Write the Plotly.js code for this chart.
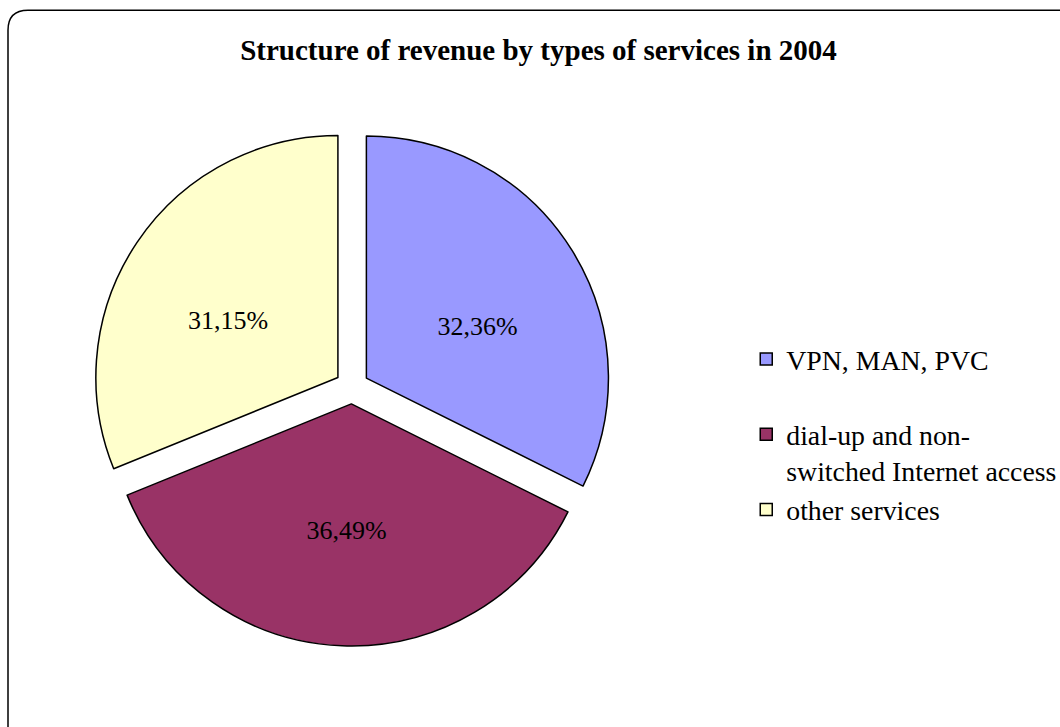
<!DOCTYPE html>
<html>
<head>
<meta charset="utf-8">
<script src="https://cdn.plot.ly/plotly-3.0.1.min.js"></script>
<style>html,body{margin:0;padding:0;background:#fff;}#chart{width:1060px;height:727px;}</style>
</head>
<body>
<div id="chart"></div>
<script>
const categories = ["VPN, MAN, PVC", "dial-up and non-<br>switched Internet access", "other services"];
const shares = [32.36, 36.49, 31.15];
const colors = ["#9999FF", "#993366", "#FFFFCC"];
const chartTitle = "Structure of revenue by types of services in 2004";

const legendLabels = categories.slice();
legendLabels[0] = categories[0] + "<br> ";

const trace = {
  type: "pie",
  labels: legendLabels,
  values: shares,
  sort: false,
  direction: "clockwise",
  rotation: 0,
  pull: 0.07,
  marker: {colors: colors, line: {color: "#000000", width: 1.5}},
  texttemplate: [" <br>%{value:.2f}%", "%{value:.2f}%", " <br>%{value:.2f}%"],
  textposition: "inside",
  insidetextorientation: "horizontal",
  textfont: {family: "Liberation Serif", size: 26, color: "#000000"},
  hoverinfo: "none",
  domain: {x: [0.0877, 0.5764], y: [0.1114, 0.824]}
};

const layout = {
  width: 1060, height: 727,
  margin: {l: 0, r: 0, t: 0, b: 0, autoexpand: false},
  paper_bgcolor: "#ffffff",
  separators: ",.",
  font: {family: "Liberation Serif", color: "#000000"},
  title: {text: "<b>" + chartTitle + "</b>", x: 0.508, xanchor: "center", y: 0.932, yanchor: "middle",
          font: {family: "Liberation Serif", size: 29, color: "#000000"}},
  showlegend: true,
  legend: {x: 0.704, xanchor: "left", y: 0.540, yanchor: "top", valign: "top",
           font: {family: "Liberation Serif", size: 27.8, color: "#000000"},
           bgcolor: "rgba(0,0,0,0)", tracegroupgap: 0},
  shapes: [{
    type: "path", xref: "paper", yref: "paper", layer: "below",
    path: "M 0.00755,-0.01 L 0.00755,0.9585 Q 0.00755,0.986 0.0264,0.986 L 1.05,0.986",
    line: {color: "#000000", width: 1.5}, fillcolor: "rgba(0,0,0,0)"
  }]
};

Plotly.newPlot("chart", [trace], layout, {displayModeBar: false, staticPlot: true});
</script>
</body>
</html>
